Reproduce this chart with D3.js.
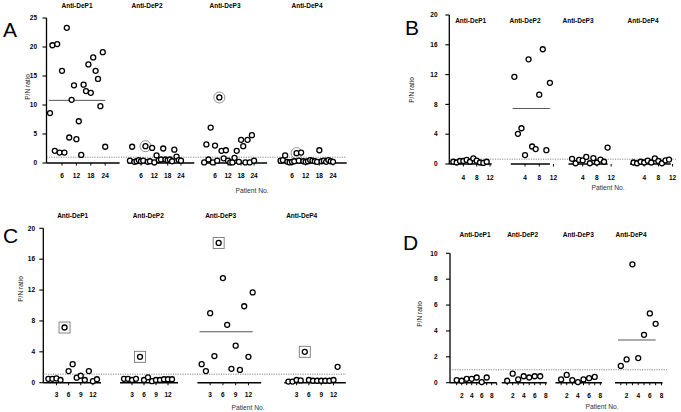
<!DOCTYPE html>
<html>
<head>
<meta charset="utf-8">
<script src="https://cdn.jsdelivr.net/npm/d3@7.9.0/dist/d3.min.js"></script>
<style>
  body { margin: 0; background: #fff; }
  svg { display: block; font-family: "Liberation Sans", Arial, sans-serif; }
</style>
</head>
<body>
<svg id="chart" width="681" height="412"></svg>
<script>
const groupNames = ["Anti-DeP1", "Anti-DeP2", "Anti-DeP3", "Anti-DeP4"];

// panel A (24 patients per antigen)
const aDeP1 = [8.6, 20.3, 2.1, 20.5, 1.8, 15.9, 1.8, 23.3, 4.4, 10.9, 13.4, 4.1, 7.2, 1.4, 13.5, 12.4, 17.0, 12.1, 18.2, 15.9, 14.5, 9.8, 19.1, 2.8];
const aDeP2 = [0.4, 2.8, 0.2, 0.3, 0.5, 0.3, 0.4, 2.9, 0.2, 0.3, 2.6, 0.1, 1.3, 0.5, 0.6, 2.5, 0.6, 0.5, 0.6, 0.3, 2.3, 1.1, 0.5, 0.4];
const aDeP3 = [0.1, 3.2, 0.6, 6.1, 0.1, 3.0, 0.4, 11.3, 2.1, 0.8, 2.2, 0.4, 0.1, 0.1, 0.9, 2.1, 0.2, 4.0, 2.9, 0.1, 4.0, 0.1, 4.8, 0.4];
const aDeP4 = [0.4, 0.5, 1.3, 0.2, 0.1, 0.2, 0.3, 1.7, 0.4, 1.8, 0.3, 0.2, 0.3, 0.5, 0.4, 0.3, 0.2, 2.2, 0.3, 0.4, 0.2, 0.5, 0.3, 0.2];
const aCircled = [null, 8, 8, 8];
const aMeans = [10.8, null, null, null];

// panel B (11 patients)
const bDeP1 = [0.3, 0.2, 0.4, 0.4, 0.55, 0.3, 0.75, 0.45, 0.2, 0.15, 0.3];
const bDeP2 = [11.7, 4.05, 4.8, 1.2, 14.05, 2.35, 2.0, 9.3, 15.4, 1.85, 10.9];
const bDeP3 = [0.7, 0.1, 0.55, 0.5, 0.95, 0.1, 0.8, 0.2, 0.6, 0.3, 2.2];
const bDeP4 = [0.2, 0.1, 0.3, 0.2, 0.45, 0.2, 0.75, 0.4, 0.1, 0.5, 0.6];
const bMeans = [null, 7.45, null, null];

// panel C (13 patients)
const cDeP1 = [0.5, 0.5, 0.55, 0.35, 7.15, 1.5, 2.4, 0.65, 0.9, 0.35, 1.5, 0.2, 0.45];
const cDeP2 = [0.5, 0.5, 0.35, 0.5, 3.35, 0.35, 0.7, 0.2, 0.35, 0.35, 0.45, 0.45, 0.45];
const cDeP3 = [2.4, 1.5, 9.0, 3.45, 18.1, 13.55, 7.5, 1.8, 4.8, 1.65, 9.9, 3.35, 11.7];
const cDeP4 = [0.15, 0.15, 0.35, 0.3, 4.0, 0.35, 0.25, 0.25, 0.25, 0.25, 0.25, 0.35, 2.05];
const cBoxed = [5, 5, 5, 5];
const cMeans = [null, null, 6.6, null];

// panel D (7 patients)
const dDeP1 = [0.2, 0.15, 0.3, 0.3, 0.4, 0.05, 0.4];
const dDeP2 = [0.15, 0.7, 0.25, 0.5, 0.4, 0.5, 0.5];
const dDeP3 = [0.25, 0.6, 0.2, 0.05, 0.25, 0.35, 0.45];
const dDeP4 = [1.3, 1.8, 9.15, 1.9, 3.7, 5.35, 4.55];
const dMeans = [null, null, null, 3.3];

const cutoffValues = [1.0, 0.65, 1.1, 1.0];

const aYTicks = [0, 5, 10, 15, 20, 25];
const bYTicks = [0, 4, 8, 12, 16, 20];
const cYTicks = [0, 4, 8, 12, 16, 20];
const dYTicks = [0, 2, 4, 6, 8, 10];
const aXTicks = [6, 12, 18, 24];
const bXTicks = [4, 8, 12];
const cXTicks = [3, 6, 9, 12];
const dXTicks = [2, 4, 6, 8];

// layout of the four panels
const panels = [
  { letter: "A", lx: 3, ly: 37, series: [aDeP1, aDeP2, aDeP3, aDeP4], yTicks: aYTicks, yPix: [163, 18],
    axisX: 46.5, labRight: 37, ylabX: 28, ylabY: 87, titleY: 8, titleX: [77, 147, 225, 307],
    groups: [[30, 47.6, 119.6], [30, 127.7, 194.3], [30, 202, 267.1], [30, 278.3, 346.7]],
    xTicks: aXTicks, everyTick: false, tickY: 178, patient: [252, 193], cutX: [46.5, 346],
    cutoff: cutoffValues[0], means: aMeans, circled: aCircled, boxed: null },
  { letter: "B", lx: 405, ly: 35, series: [bDeP1, bDeP2, bDeP3, bDeP4], yTicks: bYTicks, yPix: [164, 15],
    axisX: 449.3, labRight: 437.5, ylabX: 412, ylabY: 90, titleY: 23, titleX: [470.7, 525, 578, 643],
    groups: [[12.5, 450, 491.7], [11, 510.8, 549.9], [11, 568.5, 607.6], [11.5, 630, 670.8]],
    xTicks: bXTicks, everyTick: false, tickY: 180, patient: [608, 190], cutX: [449.3, 676],
    cutoff: cutoffValues[1], means: bMeans, circled: null, boxed: null },
  { letter: "C", lx: 3, ly: 243, series: [cDeP1, cDeP2, cDeP3, cDeP4], yTicks: cYTicks, yPix: [382.7, 228.3],
    axisX: 43.3, labRight: 35, ylabX: 21, ylabY: 289, titleY: 217.5, titleX: [72.7, 148.3, 220.7, 301.7],
    groups: [[14, 44.3, 101], [14.5, 120, 178], [15, 197.4, 261.2], [15, 284.3, 345.8]],
    xTicks: cXTicks, everyTick: false, tickY: 397, patient: [248, 410], cutX: [43.3, 346],
    cutoff: cutoffValues[2], means: cMeans, circled: null, boxed: cBoxed },
  { letter: "D", lx: 403, ly: 250, series: [dDeP1, dDeP2, dDeP3, dDeP4], yTicks: dYTicks, yPix: [382.7, 253.3],
    axisX: 450, labRight: 437.5, ylabX: 419.5, ylabY: 314, titleY: 237, titleX: [475, 522.7, 578.3, 631],
    groups: [[9, 451.7, 496.7], [8.2, 501.7, 546.8], [8.3, 555.5, 602], [8.2, 615, 662.6]],
    xTicks: dXTicks, everyTick: true, tickY: 398, patient: [602, 408.5], cutX: [450, 667],
    cutoff: cutoffValues[3], means: dMeans, circled: null, boxed: null }
];

const svg = d3.select("#chart");

panels.forEach(p => {
  const g = svg.append("g");
  const yMax = d3.max(p.yTicks);
  const y = d3.scaleLinear().domain([0, yMax]).range(p.yPix);

  // panel letter
  g.append("text").attr("x", p.lx).attr("y", p.ly)
    .attr("font-size", 21).attr("fill", "#000").text(p.letter);

  // y axis
  g.append("line").attr("x1", p.axisX).attr("x2", p.axisX)
    .attr("y1", y(0)).attr("y2", y(yMax)).attr("stroke", "#000").attr("stroke-width", 1.3);
  p.yTicks.forEach(t => {
    g.append("line").attr("x1", p.axisX - 4).attr("x2", p.axisX)
      .attr("y1", y(t)).attr("y2", y(t)).attr("stroke", "#000").attr("stroke-width", 1.1);
    g.append("text").attr("x", p.labRight).attr("y", y(t)).attr("dy", "0.35em")
      .attr("text-anchor", "end").attr("font-size", 6.5).attr("font-weight", "bold").text(t);
  });
  g.append("text")
    .attr("transform", `translate(${p.ylabX},${p.ylabY}) rotate(-90)`)
    .attr("text-anchor", "middle").attr("dy", "0.35em")
    .attr("font-size", 6.6).attr("fill", "#222").text("P/N ratio");

  // cutoff line
  g.append("line").attr("x1", p.cutX[0]).attr("x2", p.cutX[1])
    .attr("y1", y(p.cutoff)).attr("y2", y(p.cutoff))
    .attr("stroke", "#555").attr("stroke-width", 0.7).attr("stroke-dasharray", "1.2,1.2");

  p.series.forEach((vals, gi) => {
    const [dmax, x0, x1] = p.groups[gi];
    const x = d3.scaleLinear().domain([0, dmax]).range([x0, x1]);
    const start = gi === 0 ? p.axisX : x0;

    // baseline with ticks
    g.append("line").attr("x1", start).attr("x2", x1)
      .attr("y1", y(0)).attr("y2", y(0)).attr("stroke", "#000").attr("stroke-width", 1.4);
    const marks = p.everyTick ? d3.range(1, Math.floor(dmax) + 1) : p.xTicks;
    marks.forEach(t => {
      g.append("line").attr("x1", x(t)).attr("x2", x(t))
        .attr("y1", y(0)).attr("y2", y(0) + 2.5).attr("stroke", "#000").attr("stroke-width", 1);
    });
    p.xTicks.forEach(t => {
      g.append("text").attr("x", x(t)).attr("y", p.tickY)
        .attr("text-anchor", "middle").attr("font-size", 6.5).attr("font-weight", "bold").text(t);
    });

    // group title
    g.append("text").attr("x", p.titleX[gi]).attr("y", p.titleY)
      .attr("text-anchor", "middle").attr("font-size", 6.5).attr("font-weight", "bold")
      .text(groupNames[gi]);

    // mean line
    const m = p.means[gi];
    if (m != null) {
      g.append("line").attr("x1", x(0.5)).attr("x2", x(vals.length))
        .attr("y1", y(m)).attr("y2", y(m)).attr("stroke", "#444").attr("stroke-width", 0.9);
    }

    // highlight marks
    if (p.circled && p.circled[gi] != null) {
      const k = p.circled[gi];
      g.append("circle").attr("cx", x(k)).attr("cy", y(vals[k - 1])).attr("r", 5.5)
        .attr("fill", "none").attr("stroke", "#777").attr("stroke-width", 0.8);
    }
    if (p.boxed && p.boxed[gi] != null) {
      const k = p.boxed[gi];
      g.append("rect").attr("x", x(k) - 5.5).attr("y", y(vals[k - 1]) - 5.5)
        .attr("width", 11).attr("height", 11)
        .attr("fill", "none").attr("stroke", "#777").attr("stroke-width", 0.9);
    }

    // points
    g.selectAll(null).data(vals).join("circle")
      .attr("cx", (d, i) => x(i + 1))
      .attr("cy", d => y(d))
      .attr("r", 2.5)
      .attr("fill", "#fff").attr("stroke", "#000").attr("stroke-width", 1.3);
  });

  g.append("text").attr("x", p.patient[0]).attr("y", p.patient[1])
    .attr("text-anchor", "middle").attr("font-size", 6.7).attr("fill", "#333").text("Patient No.");
});
</script>
</body>
</html>
